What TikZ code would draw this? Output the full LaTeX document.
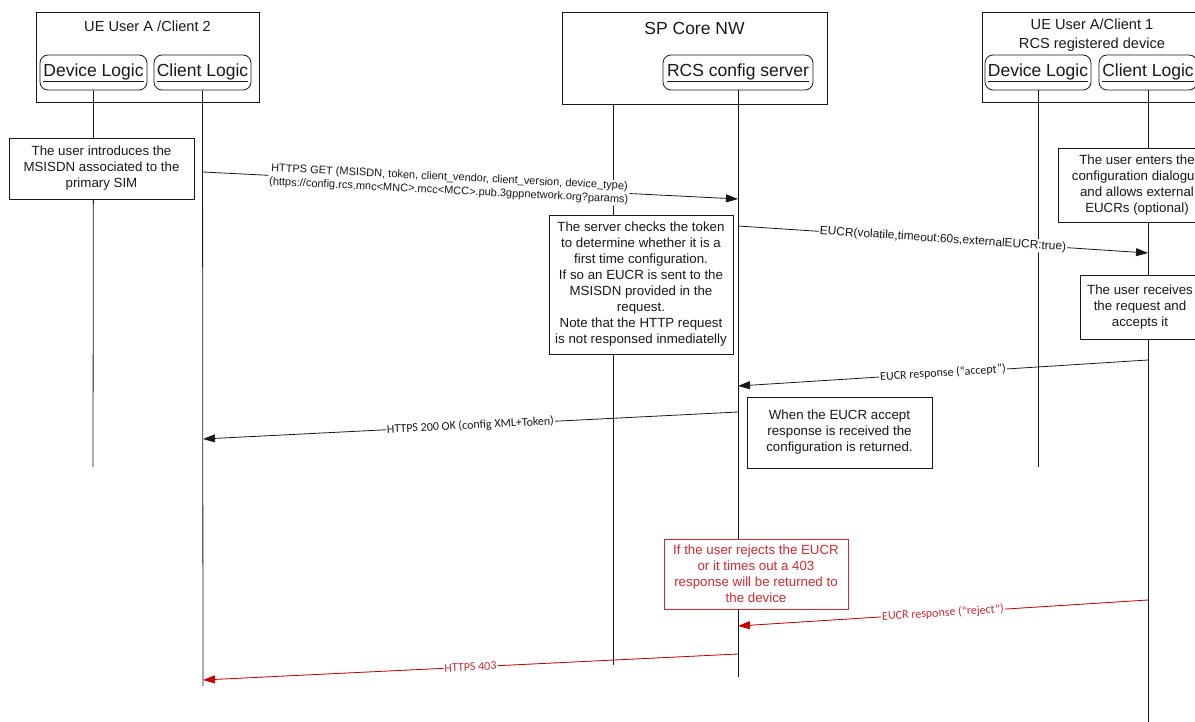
\documentclass[tikz,border=0pt]{standalone}
\usepackage{fontspec}
\setmainfont{Liberation Sans}
\newfontfamily\calib{Carlito}
\usetikzlibrary{arrows.meta}
\definecolor{rcsred}{RGB}{204,0,0}
\definecolor{rcsredtxt}{RGB}{215,40,50}
\definecolor{ink}{RGB}{25,25,25}
\begin{document}
\begin{tikzpicture}[x=1pt,y=-1pt,
  every node/.style={text=ink},
  container/.style={draw=ink, line width=0.9pt, inner sep=0pt},
  title/.style={inner sep=0pt, align=center, font=\fontsize{14.6}{19}\selectfont},
  logic/.style={draw=ink, rounded corners=8pt, line width=0.8pt, inner sep=0pt, fill=white,
    font=\fontsize{17.5}{20}\selectfont, minimum height=35pt},
  note/.style={draw=ink, fill=white, line width=0.8pt, align=center, inner sep=0pt,
    font=\fontsize{13.3}{16}\selectfont},
  rednote/.style={note, draw=rcsredtxt, text=rcsredtxt},
  life/.style={draw=ink, line width=0.8pt},
  msg/.style={draw=ink, line width=0.8pt, -{Triangle[length=12pt,width=8pt]}},
  redmsg/.style={msg, draw=rcsred, fill=rcsred},
  lbl/.style={fill=white, inner sep=1pt, sloped, midway, align=center},
  albl/.style={lbl, font=\fontsize{11}{13.5}\selectfont},
  blbl/.style={lbl, font=\fontsize{11.9}{13.5}\selectfont},
  clbl/.style={lbl, font=\calib\fontsize{12}{13}\selectfont},
  rlbl/.style={clbl, text=rcsredtxt}
]
\useasboundingbox (0,0) rectangle (1195,722);
\clip (0,0) rectangle (1195,722);

% containers
\node[container, minimum width=223pt, minimum height=90pt] (boxL) at (147.5,57) {};
\node[title] (tL) at (147.5,26) {UE User A /Client 2};
\node[logic, minimum width=107pt] (devL) at (93.5,72.5) {\underline{Device Logic}};
\node[logic, minimum width=97pt] (cliL) at (202.5,72.5) {\underline{Client Logic}};

\node[container, minimum width=265pt, minimum height=92pt] (boxM) at (694.5,58) {};
\node[title, font=\fontsize{17.5}{19}\selectfont] (tM) at (694.5,28) {SP Core NW};
\node[logic, minimum width=150pt] (rcs) at (738,72.5) {\underline{RCS config server}};

\node[container, minimum width=268pt, minimum height=90pt] (boxR) at (1116,57) {};
\node[title] (tR) at (1092,35.5) {UE User A/Client 1\\RCS registered device};
\node[logic, minimum width=106pt] (devR) at (1038,72.5) {\underline{Device Logic}};
\node[logic, minimum width=98pt] (cliR) at (1148,72.5) {\underline{Client Logic}};

% lifeline ends
\coordinate (eDevL) at (93,467);
\coordinate (eCliL) at (203,686);
\coordinate (eCore) at (613,665);
\coordinate (eRcs) at (738,677);
\coordinate (eDevR) at (1038,467);
\coordinate (eCliR) at (1148,722);
\coordinate (sCore) at (613,104);

\draw[life] (devL.south) -- (eDevL);
\draw[life] (cliL.south) -- (eCliL);
\draw[life] (sCore) -- (eCore);
\draw[life] (rcs.south) -- (eRcs);
\draw[life] (devR.south) -- (eDevR);
\draw[life] (cliR.south) -- (eCliR);

% notes
\node[note, minimum width=185pt, minimum height=61pt] (n1) at (101.5,168.5)
  {The user introduces the\\MSISDN associated to the\\primary SIM};
\node[note, minimum width=184pt, minimum height=139pt] (n2) at (641,284.5)
  {The server checks the token\\to determine whether it is a\\first time configuration.\\If so an EUCR is sent to the\\MSISDN provided in the\\request.\\Note that the HTTP request\\is not responsed inmediatelly};
\node[note, minimum width=158pt, minimum height=74pt] (n3) at (1137,185)
  {The user enters the\\configuration dialogue\\and allows external\\EUCRs (optional)};
\node[note, minimum width=120pt, minimum height=64pt] (n4) at (1140,307)
  {The user receives\\the request and\\accepts it};
\node[note, minimum width=185pt, minimum height=71pt] (n5) at (839.5,432.5)
  {When the EUCR accept\\response is received the\\configuration is returned.};
\node[rednote, minimum width=184pt, minimum height=70pt] (n6) at (756,574)
  {If the user rejects the EUCR\\or it times out a 403\\response will be returned to\\the device};

% message points
\coordinate (m1a) at (203,172);  \coordinate (m1b) at (738,199);
\coordinate (m2a) at (738,226);  \coordinate (m2b) at (1148,253);
\coordinate (m3a) at (1148,360); \coordinate (m3b) at (738,386);
\coordinate (m4a) at (738,412);  \coordinate (m4b) at (203,439);
\coordinate (m5a) at (1148,600); \coordinate (m5b) at (738,626);
\coordinate (m6a) at (738,654);  \coordinate (m6b) at (203,680);

\draw[msg] (m1a) -- node[albl, pos=0.46] {HTTPS GET (MSISDN, token, client\_vendor, client\_version, device\_type)\\(https://config.rcs.mnc<MNC>.mcc<MCC>.pub.3gppnetwork.org?params)} (m1b);
\draw[msg] (m2a) -- node[blbl] {EUCR(volatile,timeout:60s,externalEUCR:true)} (m2b);
\draw[msg] (m3a) -- node[clbl] {EUCR response (“accept”)} (m3b);
\draw[msg] (m4a) -- node[clbl] {HTTPS 200 OK (config XML+Token)} (m4b);
\draw[redmsg] (m5a) -- node[rlbl] {EUCR response (“reject”)} (m5b);
\draw[redmsg] (m6a) -- node[rlbl] {HTTPS 403} (m6b);
\end{tikzpicture}
\end{document}
